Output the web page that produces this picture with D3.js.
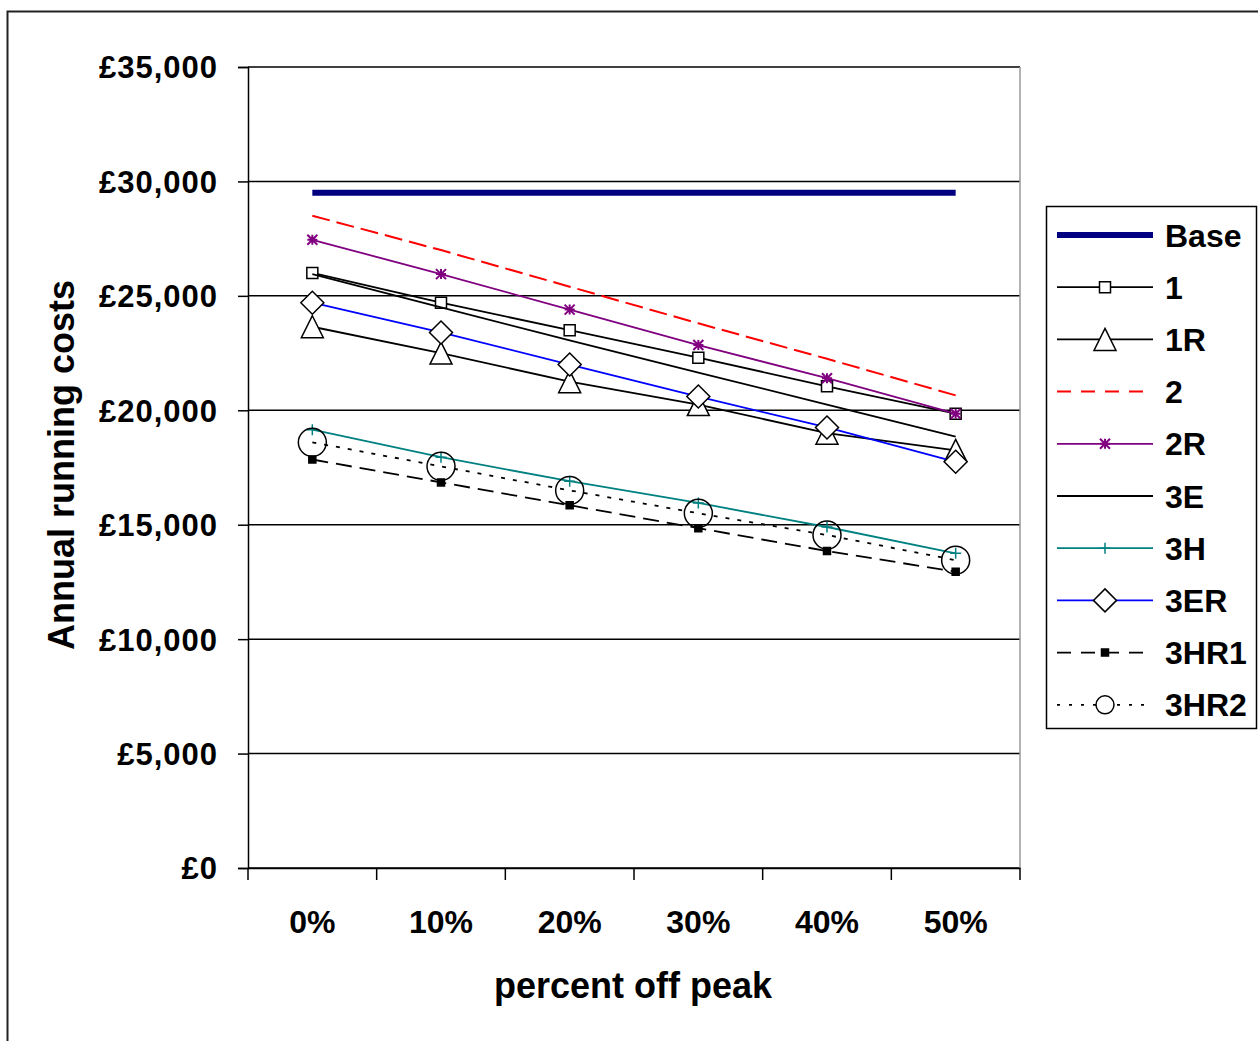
<!DOCTYPE html>
<html>
<head>
<meta charset="utf-8">
<script src="https://cdn.jsdelivr.net/npm/d3@7"></script>
<style>
  body { margin: 0; background: #fff; }
  text { font-family: "Liberation Sans", Arial, sans-serif; font-weight: bold; fill: #000; }
</style>
</head>
<body>
<svg id="chart" width="1258" height="1041"></svg>
<script>
// data
const categories = ["0%", "10%", "20%", "30%", "40%", "50%"];
const yTicks = [0, 5000, 10000, 15000, 20000, 25000, 30000, 35000];
const seriesNames = ["Base", "1", "1R", "2", "2R", "3E", "3H", "3ER", "3HR1", "3HR2"];

const base   = [29500, 29500, 29500, 29500, 29500, 29500];
const s1     = [26000, 24700, 23500, 22300, 21050, 19850];
const s1R    = [23650, 22500, 21250, 20250, 19000, 18250];
const s2     = [28500, 27000, 25400, 23800, 22250, 20650];
const s2R    = [27450, 25950, 24400, 22850, 21400, 19850];
const s3E    = [25950, 24500, 23050, 21650, 20250, 18850];
const s3H    = [19150, 17950, 16900, 15950, 14900, 13750];
const s3ER   = [24700, 23400, 22000, 20600, 19250, 17750];
const s3HR1  = [17850, 16850, 15850, 14850, 13850, 12950];
const s3HR2  = [18600, 17550, 16500, 15500, 14550, 13450];

const seriesValues = [base, s1, s1R, s2, s2R, s3E, s3H, s3ER, s3HR1, s3HR2];

// marker shapes
const markerPaths = {
  square: s => `M${-s/2},${-s/2}H${s/2}V${s/2}H${-s/2}Z`,
  triangle: s => `M0,${-s/2}L${s/2},${s/2}L${-s/2},${s/2}Z`,
  diamond: s => `M0,${-s/2}L${s/2},0L0,${s/2}L${-s/2},0Z`,
  star: s => `M0,${-s/2}V${s/2}M${-s/2},${-s/2}L${s/2},${s/2}M${-s/2},${s/2}L${s/2},${-s/2}M${-s/2},0H${s/2}`,
  plus: s => `M${-s/2},0H${s/2}M0,${-s/2}V${s/2}`,
  circle: s => d3.symbol(d3.symbolCircle, Math.PI * s * s / 4)()
};

const styles = {
  "Base": { color: "#000080", width: 6 },
  "1":    { color: "#000", width: 1.8, marker: "square", size: 11, legendSize: 11, fill: "#fff" },
  "1R":   { color: "#000", width: 1.8, marker: "triangle", size: 22, legendSize: 22, fill: "#fff" },
  "2":    { color: "#ff0000", width: 2, dash: "18,7", legendDash: "14,10" },
  "2R":   { color: "#800080", width: 1.8, marker: "star", size: 10, legendSize: 10, fill: "none", mstroke: "#800080", mwidth: 2 },
  "3E":   { color: "#000", width: 1.8 },
  "3H":   { color: "#008080", width: 1.8, marker: "plus", size: 11, legendSize: 11, fill: "none", mstroke: "#008080" },
  "3ER":  { color: "#0000ff", width: 1.8, marker: "diamond", size: 23, legendSize: 23, fill: "#fff", mstroke: "#000" },
  "3HR1": { color: "#000", width: 1.8, dash: "16,8", legendDash: "14,10", marker: "square", size: 7, legendSize: 7, fill: "#000" },
  "3HR2": { color: "#000", width: 1.8, dash: "4,8", legendDash: "3,9", marker: "circle", size: 28, legendSize: 18, fill: "none" }
};

const svg = d3.select("#chart");

// outer chart border
svg.append("rect")
  .attr("x", 7.5).attr("y", 11.5)
  .attr("width", 1300).attr("height", 1100)
  .attr("fill", "none").attr("stroke", "#222").attr("stroke-width", 2);

const plotLeft = 248, plotRight = 1020, plotTop = 67, plotBottom = 868;

const x = d3.scaleBand().domain(categories).range([plotLeft, plotRight]).padding(0);
const y = d3.scaleLinear().domain([0, 35000]).range([plotBottom, plotTop]);
const cx = c => x(c) + x.bandwidth() / 2;

// gridlines
svg.append("g")
  .selectAll("line")
  .data(yTicks)
  .enter()
  .append("line")
  .attr("x1", plotLeft).attr("x2", plotRight)
  .attr("y1", d => y(d)).attr("y2", d => y(d))
  .attr("stroke", "#000").attr("stroke-width", 1.5);

// right plot border
svg.append("line")
  .attr("x1", plotRight).attr("x2", plotRight)
  .attr("y1", plotTop).attr("y2", plotBottom)
  .attr("stroke", "#999").attr("stroke-width", 1.5);

// y axis
const yAxis = svg.append("g")
  .attr("transform", `translate(${plotLeft},0)`)
  .call(d3.axisLeft(y).tickValues(yTicks).tickSize(10).tickPadding(20)
    .tickFormat(d => "£" + d3.format(",")(d)));
yAxis.select(".domain").attr("stroke", "#000").attr("stroke-width", 1.5);
yAxis.selectAll(".tick line").attr("stroke", "#000").attr("stroke-width", 1.5);
yAxis.selectAll("text")
  .attr("font-size", 31).attr("letter-spacing", 1)
  .attr("fill", "#000").attr("dy", "0.35em");

// x axis
const xAxis = svg.append("g")
  .attr("transform", `translate(0,${plotBottom})`)
  .call(d3.axisBottom(x).tickSize(0).tickPadding(42));
xAxis.select(".domain").attr("stroke", "#000").attr("stroke-width", 1.5);
xAxis.selectAll("text").attr("font-size", 32).attr("fill", "#000");

// x ticks at band edges
svg.append("g")
  .selectAll("line")
  .data(categories.concat(["end"]))
  .enter()
  .append("line")
  .attr("x1", (d, i) => plotLeft + i * x.step())
  .attr("x2", (d, i) => plotLeft + i * x.step())
  .attr("y1", plotBottom).attr("y2", plotBottom + 12)
  .attr("stroke", "#000").attr("stroke-width", 1.5);

// axis titles
svg.append("text")
  .attr("x", 633).attr("y", 998)
  .attr("text-anchor", "middle")
  .attr("font-size", 36)
  .text("percent off peak");

svg.append("text")
  .attr("transform", "translate(74,465) rotate(-90)")
  .attr("text-anchor", "middle")
  .attr("font-size", 36)
  .text("Annual running costs");

// series
const line = d3.line().x((d, i) => cx(categories[i])).y(d => y(d));

seriesNames.forEach((name, k) => {
  const st = styles[name];
  const vals = seriesValues[k];
  const g = svg.append("g").attr("class", "series");

  g.append("path")
    .datum(vals)
    .attr("d", line)
    .attr("fill", "none")
    .attr("stroke", st.color)
    .attr("stroke-width", st.width)
    .attr("stroke-dasharray", st.dash || null);

  if (st.marker) {
    g.selectAll("path.m")
      .data(vals)
      .enter()
      .append("path")
      .attr("class", "m")
      .attr("transform", (d, i) => `translate(${cx(categories[i])},${y(d)})`)
      .attr("d", markerPaths[st.marker](st.size))
      .attr("fill", st.fill)
      .attr("stroke", st.mstroke || "#000")
      .attr("stroke-width", st.mwidth || 1.5);
  }
});

// legend
const legend = svg.append("g");
legend.append("rect")
  .attr("x", 1046.5).attr("y", 206.5)
  .attr("width", 210).attr("height", 522)
  .attr("fill", "#fff").attr("stroke", "#000").attr("stroke-width", 1.5);

const rowY = i => 235 + i * 52.2;

seriesNames.forEach((name, i) => {
  const st = styles[name];
  const ry = rowY(i);
  legend.append("line")
    .attr("x1", 1057).attr("x2", 1153)
    .attr("y1", ry).attr("y2", ry)
    .attr("stroke", st.color)
    .attr("stroke-width", st.width)
    .attr("stroke-dasharray", st.legendDash || null);
  if (st.marker) {
    legend.append("path")
      .attr("transform", `translate(1105,${ry})`)
      .attr("d", markerPaths[st.marker](st.legendSize))
      .attr("fill", st.fill === "none" ? "#fff" : st.fill)
      .attr("stroke", st.mstroke || "#000")
      .attr("stroke-width", st.mwidth || 1.5);
  }
  legend.append("text")
    .attr("x", 1165).attr("y", ry)
    .attr("dy", "0.36em")
    .attr("font-size", 32)
    .text(name);
});
</script>
</body>
</html>
